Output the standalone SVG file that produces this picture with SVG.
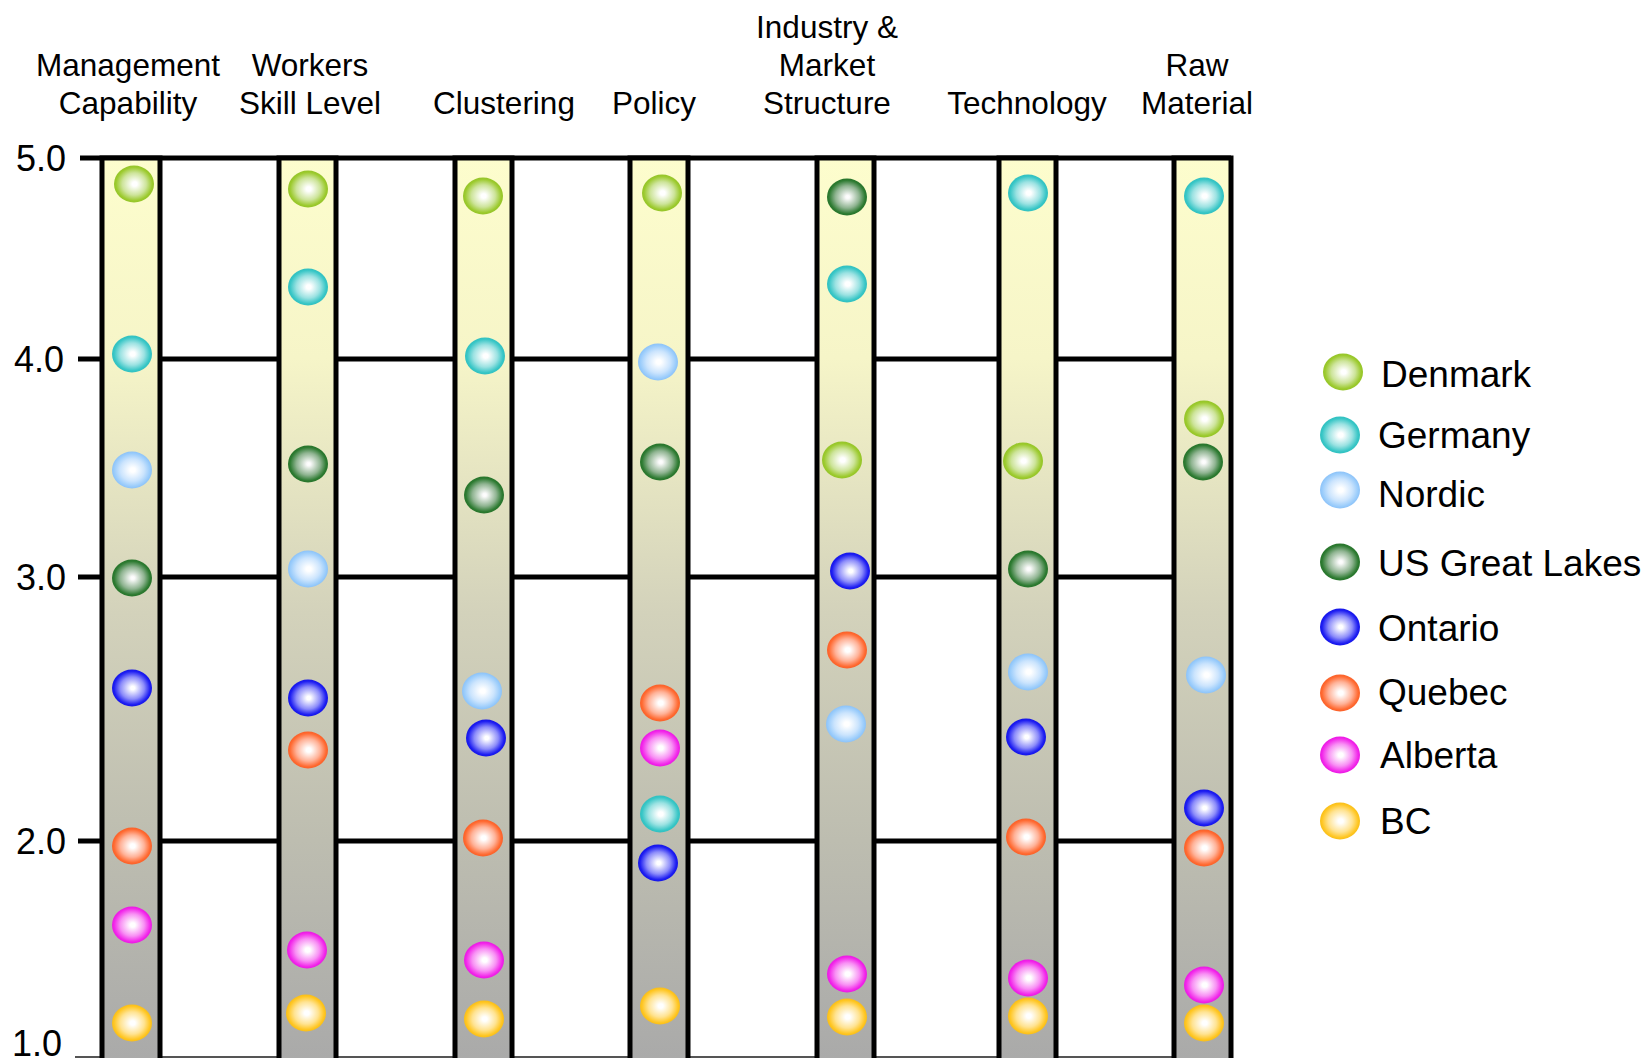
<svg xmlns="http://www.w3.org/2000/svg" width="1647" height="1058" viewBox="0 0 1647 1058">
<style>
text{font-family:"Liberation Sans",Arial,sans-serif;fill:#000}
.hdr{font-size:31.5px;text-anchor:middle}
.ax{font-size:36px;text-anchor:end}
.lg{font-size:37px}
.grid{stroke:#000;stroke-width:5;fill:none}
.col{fill:url(#colg);stroke:#000;stroke-width:5}
</style>
<defs>
<linearGradient id="colg" x1="0" y1="0" x2="0" y2="1">
<stop offset="0" stop-color="#FDFDCD"/>
<stop offset="0.22" stop-color="#F6F5C8"/>
<stop offset="0.5" stop-color="#D3D2BB"/>
<stop offset="0.75" stop-color="#BDBDB0"/>
<stop offset="1" stop-color="#A9A9A9"/>
</linearGradient>
<radialGradient id="gDen" cx="0.5" cy="0.5" r="0.5" fx="0.52" fy="0.5"><stop offset="0" stop-color="#fff"/><stop offset="0.12" stop-color="#fff"/><stop offset="0.6" stop-color="#CDE49A"/><stop offset="0.9" stop-color="#9CCA2E"/><stop offset="1" stop-color="#94C428"/></radialGradient>
<radialGradient id="gGer" cx="0.5" cy="0.5" r="0.5" fx="0.52" fy="0.5"><stop offset="0" stop-color="#fff"/><stop offset="0.12" stop-color="#fff"/><stop offset="0.6" stop-color="#9BE2E2"/><stop offset="0.9" stop-color="#38C6C6"/><stop offset="1" stop-color="#30C0C0"/></radialGradient>
<radialGradient id="gNor" cx="0.5" cy="0.5" r="0.5" fx="0.52" fy="0.5"><stop offset="0" stop-color="#fff"/><stop offset="0.12" stop-color="#fff"/><stop offset="0.6" stop-color="#CBE4FD"/><stop offset="0.9" stop-color="#98CBFB"/><stop offset="1" stop-color="#8CC2F8"/></radialGradient>
<radialGradient id="gUSG" cx="0.5" cy="0.5" r="0.5" fx="0.52" fy="0.5"><stop offset="0" stop-color="#fff"/><stop offset="0.1" stop-color="#fafafa"/><stop offset="0.6" stop-color="#8FB491"/><stop offset="0.9" stop-color="#2E7B32"/><stop offset="1" stop-color="#26742A"/></radialGradient>
<radialGradient id="gOnt" cx="0.5" cy="0.5" r="0.5" fx="0.52" fy="0.5"><stop offset="0" stop-color="#fff"/><stop offset="0.1" stop-color="#fff"/><stop offset="0.6" stop-color="#8C8CFA"/><stop offset="0.9" stop-color="#1E1EF2"/><stop offset="1" stop-color="#1414E8"/></radialGradient>
<radialGradient id="gQue" cx="0.5" cy="0.5" r="0.5" fx="0.52" fy="0.5"><stop offset="0" stop-color="#fff"/><stop offset="0.12" stop-color="#fff"/><stop offset="0.6" stop-color="#FFB298"/><stop offset="0.9" stop-color="#FF6A32"/><stop offset="1" stop-color="#FA6028"/></radialGradient>
<radialGradient id="gAlb" cx="0.5" cy="0.5" r="0.5" fx="0.52" fy="0.5"><stop offset="0" stop-color="#fff"/><stop offset="0.12" stop-color="#fff"/><stop offset="0.6" stop-color="#F890F4"/><stop offset="0.9" stop-color="#F226EA"/><stop offset="1" stop-color="#EA18E2"/></radialGradient>
<radialGradient id="gBC" cx="0.5" cy="0.5" r="0.5" fx="0.52" fy="0.5"><stop offset="0" stop-color="#fff"/><stop offset="0.12" stop-color="#fff"/><stop offset="0.6" stop-color="#FFE392"/><stop offset="0.9" stop-color="#FFC622"/><stop offset="1" stop-color="#F8BE18"/></radialGradient>
</defs>
<rect width="1647" height="1058" fill="#fff"/>

<g id="headers">
<text class="hdr" x="128" y="76">Management</text>
<text class="hdr" x="128" y="114">Capability</text>
<text class="hdr" x="310" y="76">Workers</text>
<text class="hdr" x="310" y="114">Skill Level</text>
<text class="hdr" x="504" y="114">Clustering</text>
<text class="hdr" x="654" y="114">Policy</text>
<text class="hdr" x="827" y="38">Industry &amp;</text>
<text class="hdr" x="827" y="76">Market</text>
<text class="hdr" x="827" y="114">Structure</text>
<text class="hdr" x="1027" y="114">Technology</text>
<text class="hdr" x="1197" y="76">Raw</text>
<text class="hdr" x="1197" y="114">Material</text>
</g>

<g id="axis">
<text class="ax" x="66" y="171">5.0</text>
<text class="ax" x="64" y="372">4.0</text>
<text class="ax" x="66" y="590">3.0</text>
<text class="ax" x="66" y="854">2.0</text>
<text class="ax" x="62" y="1056">1.0</text>
</g>

<g id="gridlines">
<line class="grid" x1="80" y1="158" x2="1231" y2="158"/>
<line class="grid" x1="78" y1="359" x2="1175" y2="359"/>
<line class="grid" x1="78" y1="577" x2="1175" y2="577"/>
<line class="grid" x1="78" y1="841" x2="1175" y2="841"/>
<line x1="75" y1="1057" x2="1231" y2="1057" stroke="#555" stroke-width="2"/>
</g>

<g id="columns">
<rect class="col" x="102" y="158" width="58" height="910"/>
<rect class="col" x="279" y="158" width="57" height="910"/>
<rect class="col" x="455" y="158" width="57" height="910"/>
<rect class="col" x="630" y="158" width="58" height="910"/>
<rect class="col" x="817" y="158" width="57" height="910"/>
<rect class="col" x="999" y="158" width="57" height="910"/>
<rect class="col" x="1174" y="158" width="57" height="910"/>
</g>

<g id="col-management">
<ellipse cx="134" cy="184" rx="20" ry="18.5" fill="url(#gDen)"/>
<ellipse cx="132" cy="354" rx="20" ry="18.5" fill="url(#gGer)"/>
<ellipse cx="132" cy="470" rx="20" ry="18.5" fill="url(#gNor)"/>
<ellipse cx="132" cy="578" rx="20" ry="18.5" fill="url(#gUSG)"/>
<ellipse cx="132" cy="688" rx="20" ry="18.5" fill="url(#gOnt)"/>
<ellipse cx="132" cy="846" rx="20" ry="18.5" fill="url(#gQue)"/>
<ellipse cx="132" cy="925" rx="20" ry="18.5" fill="url(#gAlb)"/>
<ellipse cx="132" cy="1023" rx="20" ry="18.5" fill="url(#gBC)"/>
</g>
<g id="col-workers">
<ellipse cx="308" cy="189" rx="20" ry="18.5" fill="url(#gDen)"/>
<ellipse cx="308" cy="287" rx="20" ry="18.5" fill="url(#gGer)"/>
<ellipse cx="308" cy="464" rx="20" ry="18.5" fill="url(#gUSG)"/>
<ellipse cx="308" cy="569" rx="20" ry="18.5" fill="url(#gNor)"/>
<ellipse cx="308" cy="698" rx="20" ry="18.5" fill="url(#gOnt)"/>
<ellipse cx="308" cy="750" rx="20" ry="18.5" fill="url(#gQue)"/>
<ellipse cx="307" cy="950" rx="20" ry="18.5" fill="url(#gAlb)"/>
<ellipse cx="306" cy="1013" rx="20" ry="18.5" fill="url(#gBC)"/>
</g>
<g id="col-clustering">
<ellipse cx="483" cy="196" rx="20" ry="18.5" fill="url(#gDen)"/>
<ellipse cx="485" cy="356" rx="20" ry="18.5" fill="url(#gGer)"/>
<ellipse cx="484" cy="495" rx="20" ry="18.5" fill="url(#gUSG)"/>
<ellipse cx="482" cy="691" rx="20" ry="18.5" fill="url(#gNor)"/>
<ellipse cx="486" cy="738" rx="20" ry="18.5" fill="url(#gOnt)"/>
<ellipse cx="483" cy="838" rx="20" ry="18.5" fill="url(#gQue)"/>
<ellipse cx="484" cy="960" rx="20" ry="18.5" fill="url(#gAlb)"/>
<ellipse cx="484" cy="1019" rx="20" ry="18.5" fill="url(#gBC)"/>
</g>
<g id="col-policy">
<ellipse cx="662" cy="193" rx="20" ry="18.5" fill="url(#gDen)"/>
<ellipse cx="658" cy="362" rx="20" ry="18.5" fill="url(#gNor)"/>
<ellipse cx="660" cy="462" rx="20" ry="18.5" fill="url(#gUSG)"/>
<ellipse cx="660" cy="703" rx="20" ry="18.5" fill="url(#gQue)"/>
<ellipse cx="660" cy="748" rx="20" ry="18.5" fill="url(#gAlb)"/>
<ellipse cx="660" cy="814" rx="20" ry="18.5" fill="url(#gGer)"/>
<ellipse cx="658" cy="863" rx="20" ry="18.5" fill="url(#gOnt)"/>
<ellipse cx="660" cy="1006" rx="20" ry="18.5" fill="url(#gBC)"/>
</g>
<g id="col-industry">
<ellipse cx="847" cy="197" rx="20" ry="18.5" fill="url(#gUSG)"/>
<ellipse cx="847" cy="284" rx="20" ry="18.5" fill="url(#gGer)"/>
<ellipse cx="842" cy="460" rx="20" ry="18.5" fill="url(#gDen)"/>
<ellipse cx="850" cy="571" rx="20" ry="18.5" fill="url(#gOnt)"/>
<ellipse cx="847" cy="650" rx="20" ry="18.5" fill="url(#gQue)"/>
<ellipse cx="846" cy="724" rx="20" ry="18.5" fill="url(#gNor)"/>
<ellipse cx="847" cy="974" rx="20" ry="18.5" fill="url(#gAlb)"/>
<ellipse cx="847" cy="1017" rx="20" ry="18.5" fill="url(#gBC)"/>
</g>
<g id="col-technology">
<ellipse cx="1028" cy="193" rx="20" ry="18.5" fill="url(#gGer)"/>
<ellipse cx="1023" cy="461" rx="20" ry="18.5" fill="url(#gDen)"/>
<ellipse cx="1028" cy="569" rx="20" ry="18.5" fill="url(#gUSG)"/>
<ellipse cx="1028" cy="672" rx="20" ry="18.5" fill="url(#gNor)"/>
<ellipse cx="1026" cy="737" rx="20" ry="18.5" fill="url(#gOnt)"/>
<ellipse cx="1026" cy="837" rx="20" ry="18.5" fill="url(#gQue)"/>
<ellipse cx="1028" cy="978" rx="20" ry="18.5" fill="url(#gAlb)"/>
<ellipse cx="1028" cy="1016" rx="20" ry="18.5" fill="url(#gBC)"/>
</g>
<g id="col-raw">
<ellipse cx="1204" cy="196" rx="20" ry="18.5" fill="url(#gGer)"/>
<ellipse cx="1204" cy="419" rx="20" ry="18.5" fill="url(#gDen)"/>
<ellipse cx="1203" cy="462" rx="20" ry="18.5" fill="url(#gUSG)"/>
<ellipse cx="1206" cy="675" rx="20" ry="18.5" fill="url(#gNor)"/>
<ellipse cx="1204" cy="808" rx="20" ry="18.5" fill="url(#gOnt)"/>
<ellipse cx="1204" cy="848" rx="20" ry="18.5" fill="url(#gQue)"/>
<ellipse cx="1204" cy="985" rx="20" ry="18.5" fill="url(#gAlb)"/>
<ellipse cx="1204" cy="1023" rx="20" ry="18.5" fill="url(#gBC)"/>
</g>

<g id="legend">
<g id="lg-denmark"><ellipse cx="1343" cy="372" rx="20" ry="18.5" fill="url(#gDen)"/><text class="lg" x="1381" y="387">Denmark</text></g>
<g id="lg-germany"><ellipse cx="1340" cy="435" rx="20" ry="18.5" fill="url(#gGer)"/><text class="lg" x="1378" y="448">Germany</text></g>
<g id="lg-nordic"><ellipse cx="1340" cy="490" rx="20" ry="18.5" fill="url(#gNor)"/><text class="lg" x="1378" y="507">Nordic</text></g>
<g id="lg-usgl"><ellipse cx="1340" cy="562" rx="20" ry="18.5" fill="url(#gUSG)"/><text class="lg" x="1378" y="576">US Great Lakes</text></g>
<g id="lg-ontario"><ellipse cx="1340" cy="627" rx="20" ry="18.5" fill="url(#gOnt)"/><text class="lg" x="1378" y="641">Ontario</text></g>
<g id="lg-quebec"><ellipse cx="1340" cy="693" rx="20" ry="18.5" fill="url(#gQue)"/><text class="lg" x="1378" y="705">Quebec</text></g>
<g id="lg-alberta"><ellipse cx="1340" cy="755" rx="20" ry="18.5" fill="url(#gAlb)"/><text class="lg" x="1380" y="768">Alberta</text></g>
<g id="lg-bc"><ellipse cx="1340" cy="821" rx="20" ry="18.5" fill="url(#gBC)"/><text class="lg" x="1380" y="834">BC</text></g>
</g>
</svg>
